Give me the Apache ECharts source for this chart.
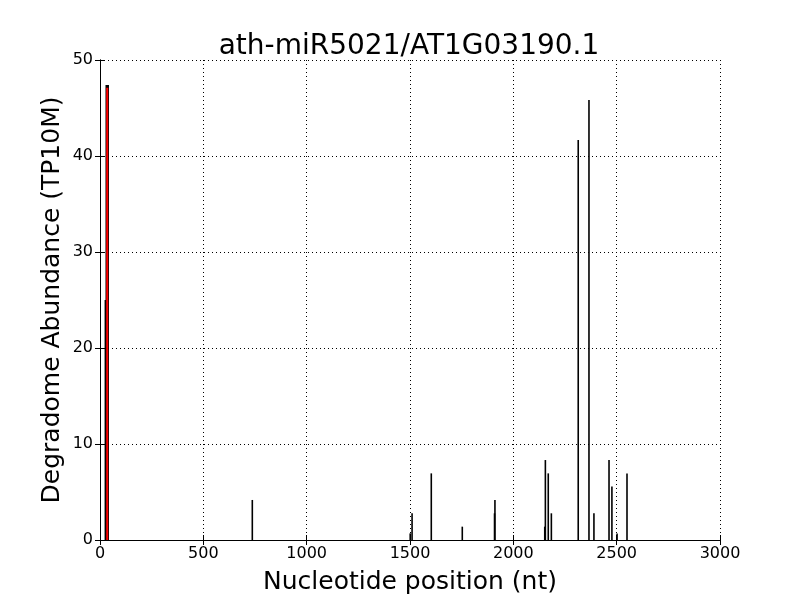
<!DOCTYPE html>
<html>
<head>
<meta charset="utf-8">
<script src="https://cdn.jsdelivr.net/npm/echarts@6/dist/echarts.min.js"></script>
<style>html,body{margin:0;padding:0;background:#fff}#c{width:800px;height:600px}</style>
</head>
<body>
<div id="c"></div>
<script>
const titleText = "ath-miR5021/AT1G03190.1";
const xTickValues = [0, 500, 1000, 1500, 2000, 2500, 3000];
const yTickValues = [0, 10, 20, 30, 40, 50];
// degradome reads (black)
const positions = [26, 35, 737, 1501, 1510, 1603, 1753, 1909, 1911, 2152, 2155, 2169, 2184, 2314, 2366, 2390, 2463, 2477, 2502, 2550];
const abundance = [25.0, 47.4, 4.17, 0.69, 2.78, 6.94, 1.39, 2.78, 4.17, 1.39, 8.33, 6.94, 2.78, 41.67, 45.83, 2.78, 8.33, 5.56, 0.69, 6.94];
// predicted cleavage site (red)
const sitePositions = [35];
const siteAbundance = [47.1];

const font = "DejaVu Sans";
function vline(color, width) {
  return function (params, api) {
    const top = api.coord([api.value(0), api.value(1)]);
    const bot = api.coord([api.value(0), 0]);
    return {
      type: 'line',
      shape: { x1: top[0], y1: top[1], x2: bot[0], y2: bot[1] },
      style: { stroke: color, lineWidth: width }
    };
  };
}
const chart = echarts.init(document.getElementById('c'), null, { renderer: 'canvas' });
const axX = {
  type: 'value', min: 0, max: 3000, interval: 500,
  axisLine: { show: true, lineStyle: { color: '#000', width: 1 } },
  axisTick: { show: true, inside: true, length: 5, lineStyle: { color: '#000' } },
  splitLine: { show: false }
};
const axY = {
  type: 'value', min: 0, max: 50, interval: 10,
  axisLine: { show: true, lineStyle: { color: '#000', width: 1 } },
  axisTick: { show: true, inside: true, length: 5, lineStyle: { color: '#000' } },
  splitLine: { show: false }
};
chart.setOption({
  animation: false,
  title: {
    text: titleText, left: 404, top: 28, textAlign: 'center',
    textStyle: { fontFamily: font, fontSize: 28, fontWeight: 'normal', color: '#000' }
  },
  grid: { left: 100, right: 80, top: 60, bottom: 60, containLabel: false, outerBoundsMode: 'none' },
  xAxis: [
    Object.assign({}, axX, {
      position: 'bottom',
      name: 'Nucleotide position (nt)', nameLocation: 'middle', nameGap: 30,
      nameTextStyle: { fontFamily: font, fontSize: 25, color: '#000' },
      axisLabel: { show: true, fontFamily: font, fontSize: 16, color: '#000', margin: 6,
        formatter: v => xTickValues.includes(v) ? String(v) : '' },
      splitLine: { show: true, lineStyle: { color: '#000', type: [1, 3], width: 1 } }
    }),
    Object.assign({}, axX, { position: 'top', axisLabel: { show: false } })
  ],
  yAxis: [
    Object.assign({}, axY, {
      position: 'left',
      name: 'Degradome Abundance (TP10M)', nameLocation: 'middle', nameGap: 35, nameMoveOverlap: false,
      nameTextStyle: { fontFamily: font, fontSize: 25, color: '#000' },
      axisLabel: { show: true, fontFamily: font, fontSize: 16, color: '#000', margin: 7,
        formatter: v => yTickValues.includes(v) ? String(v) : '' },
      splitLine: { show: true, lineStyle: { color: '#000', type: [1, 3], width: 1 } }
    }),
    Object.assign({}, axY, { position: 'right', axisLabel: { show: false } })
  ],
  series: [
    {
      type: 'custom', xAxisIndex: 0, yAxisIndex: 0,
      renderItem: vline('#000', 1.6),
      data: positions.map((p, i) => [p, abundance[i]]),
      z: 2, silent: true
    },
    {
      type: 'custom', xAxisIndex: 0, yAxisIndex: 0,
      renderItem: vline('#000', 3.5),
      data: sitePositions.map((p, i) => [p, abundance[positions.indexOf(p)]]),
      z: 3, silent: true
    },
    {
      type: 'custom', xAxisIndex: 0, yAxisIndex: 0,
      renderItem: vline('#ff0000', 2),
      data: sitePositions.map((p, i) => [p, siteAbundance[i]]),
      z: 4, silent: true
    }
  ]
});
</script>
</body>
</html>
